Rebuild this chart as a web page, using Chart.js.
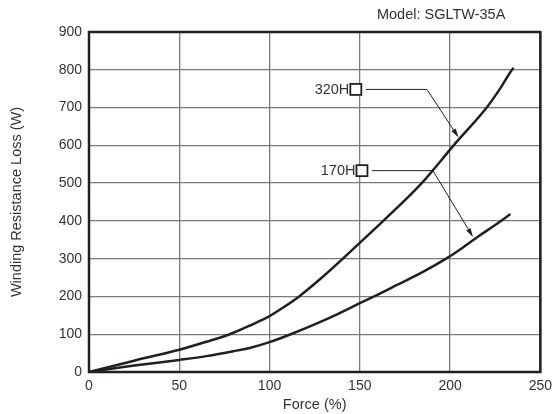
<!DOCTYPE html>
<html>
<head>
<meta charset="utf-8">
<script src="https://cdn.jsdelivr.net/npm/chart.js@4/dist/chart.umd.min.js"></script>
<style>
  html, body { margin: 0; padding: 0; background: #fff; }
  canvas { display: block; }
</style>
</head>
<body>
<canvas id="myChart" width="558" height="414"></canvas>
<script>
// values (force %, loss W)
var force320 = [0, 25, 50, 65, 78, 90, 100, 108, 116.4, 130, 140.6, 150, 163, 184.3, 202, 220.3, 228, 234.3, 235.2];
var loss320 = [0, 30, 59, 80, 100, 125, 148, 172, 200, 254, 300, 342, 400, 500, 600, 700, 752, 800, 805];
var force170 = [0, 25, 50, 65, 80, 90, 100, 112.8, 125, 138, 150, 160, 170, 185, 197.8, 207, 216, 225, 233.5];
var loss170 = [0, 17, 32, 42, 55, 65, 79, 102, 126, 154, 182, 205, 229, 265, 300, 329, 360, 389, 418];

var xTicks = [0, 50, 100, 150, 200, 250];
var yTicks = [0, 100, 200, 300, 400, 500, 600, 700, 800, 900];

// callouts (in data units): label, box, elbow, arrow tip
var noteLabels = ["320H", "170H"];
var noteBoxForce = [147.8, 151.2];
var noteBoxLoss = [748, 533];
var noteElbowForce = [187.2, 190.5];
var noteTipForce = [204.7, 212.7];
var noteTipLoss = [620.7, 357.5];

function toPoints(xs, ys) {
  return xs.map(function(x, i) { return { x: x, y: ys[i] }; });
}

Chart.defaults.font.family = "'Liberation Sans', Arial, sans-serif";
Chart.defaults.color = "#333";

var ink = "#231f20";

//!Frame, callouts, model label
var extras = {
  id: "extras",
  afterDatasetsDraw: function(chart) {
    var ctx = chart.ctx, a = chart.chartArea;
    var xs = chart.scales.x, ys = chart.scales.y;
    ctx.save();
    ctx.strokeStyle = ink;
    ctx.lineWidth = 2.5;
    ctx.strokeRect(a.left, a.top, a.right - a.left, a.bottom - a.top);

    for (var i = 0; i < noteLabels.length; i++) {
      var bx = xs.getPixelForValue(noteBoxForce[i]);
      var by = ys.getPixelForValue(noteBoxLoss[i]);
      var ex = xs.getPixelForValue(noteElbowForce[i]);
      var tx = xs.getPixelForValue(noteTipForce[i]);
      var ty = ys.getPixelForValue(noteTipLoss[i]);

      ctx.fillStyle = "#fff";
      ctx.fillRect(bx - 5.5, by - 5.5, 11, 11);
      ctx.lineWidth = 1.8;
      ctx.strokeStyle = ink;
      ctx.strokeRect(bx - 5.5, by - 5.5, 11, 11);

      ctx.fillStyle = "#333";
      ctx.font = "14.5px 'Liberation Sans', Arial, sans-serif";
      ctx.textAlign = "right";
      ctx.textBaseline = "middle";
      ctx.fillText(noteLabels[i], bx - 6.5, by + 0.5);

      var ang = Math.atan2(ty - by, tx - ex);
      var len = 9;
      var bxEnd = tx - len * Math.cos(ang), byEnd = ty - len * Math.sin(ang);
      ctx.lineWidth = 1;
      ctx.beginPath();
      ctx.moveTo(bx + 10, by);
      ctx.lineTo(ex, by);
      ctx.lineTo(bxEnd, byEnd);
      ctx.stroke();

      ctx.fillStyle = ink;
      ctx.beginPath();
      ctx.moveTo(tx, ty);
      ctx.lineTo(bxEnd + 2.5 * Math.sin(ang), byEnd - 2.5 * Math.cos(ang));
      ctx.lineTo(bxEnd - 2.5 * Math.sin(ang), byEnd + 2.5 * Math.cos(ang));
      ctx.closePath();
      ctx.fill();
    }

    ctx.fillStyle = "#333";
    ctx.font = "14.5px 'Liberation Sans', Arial, sans-serif";
    ctx.textAlign = "right";
    ctx.textBaseline = "middle";
    ctx.fillText("Model: SGLTW-35A", a.right - 35, 15);
    ctx.restore();
  }
};

var ctx = document.getElementById("myChart").getContext("2d");
var myChart = new Chart(ctx, {
  type: "scatter",
  data: {
    datasets: [
      {
        label: "320H",
        data: toPoints(force320, loss320),
        showLine: true,
        borderColor: ink,
        borderWidth: 2.5,
        pointRadius: 0,
        cubicInterpolationMode: "monotone"
      },
      {
        label: "170H",
        data: toPoints(force170, loss170),
        showLine: true,
        borderColor: ink,
        borderWidth: 2.5,
        pointRadius: 0,
        cubicInterpolationMode: "monotone"
      }
    ]
  },
  options: {
    responsive: false,
    animation: false,
    devicePixelRatio: 1,
    layout: { padding: { left: 0, top: 32, right: 13, bottom: 0 } },
    plugins: { legend: { display: false }, tooltip: { enabled: false } },
    scales: {
      x: {
        min: 0,
        max: 250,
        afterBuildTicks: function(s) { s.ticks = xTicks.map(function(v) { return { value: v }; }); },
        afterFit: function(s) { s.height = 42; },
        grid: { color: "#7a7a7a", lineWidth: 1.3, drawTicks: false },
        border: { display: false },
        ticks: { padding: 6, font: { size: 14 } },
        title: { display: true, text: "Force (%)", font: { size: 14.5 }, padding: { top: 1, bottom: 0 } }
      },
      y: {
        min: 0,
        max: 900,
        afterBuildTicks: function(s) { s.ticks = yTicks.map(function(v) { return { value: v }; }); },
        afterFit: function(s) { s.width = 89; },
        grid: { color: "#7a7a7a", lineWidth: 1.3, drawTicks: false },
        border: { display: false },
        ticks: { padding: 7, font: { size: 14 } },
        title: { display: true, text: "Winding Resistance Loss (W)", font: { size: 14.5 }, padding: { top: 8, bottom: 0 } }
      }
    }
  },
  plugins: [extras]
});
</script>
</body>
</html>
